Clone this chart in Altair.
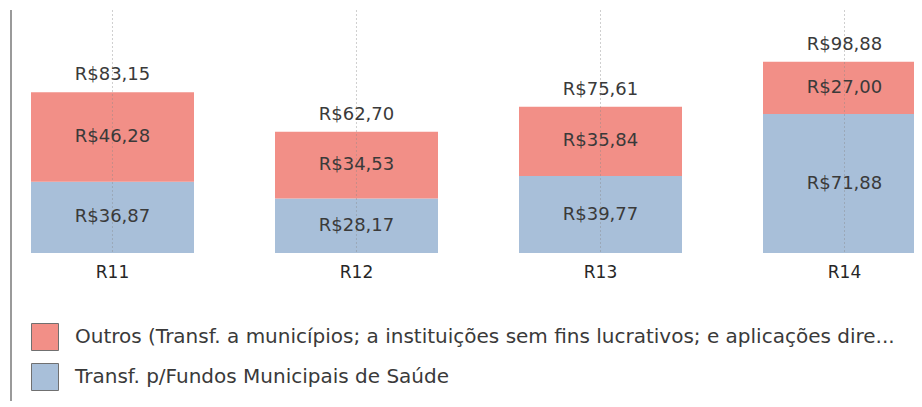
import altair as alt
import pandas as pd

categories = ["R11", "R12", "R13", "R14"]
saude = [36.87, 28.17, 39.77, 71.88]
outros = [46.28, 34.53, 35.84, 27.00]
totais = [83.15, 62.70, 75.61, 98.88]

serie_outros = "Outros (Transf. a municípios; a instituições sem fins lucrativos; e aplicações dire..."
serie_saude = "Transf. p/Fundos Municipais de Saúde"


def brl(v):
    return "R$" + f"{v:.2f}".replace(".", ",")


rows = []
for c, s, o in zip(categories, saude, outros):
    rows.append({"cat": c, "serie": serie_saude, "valor": s, "ordem": 0, "rotulo": brl(s)})
    rows.append({"cat": c, "serie": serie_outros, "valor": o, "ordem": 1, "rotulo": brl(o)})
df = pd.DataFrame(rows)
tot = pd.DataFrame({"cat": categories, "total": totais, "rotulo": [brl(t) for t in totais]})

FONT = "DejaVu Sans"
TXT = "#3a3a3a"

xscale = alt.Scale(domain=categories, range=[20, 915], paddingInner=0.332, paddingOuter=0)
yscale = alt.Scale(domain=[0, 125.7], nice=False, zero=True)

xaxis = alt.Axis(title=None, ticks=False, domain=False, labelAngle=0,
                 labelFont=FONT, labelFontSize=17, labelColor="#262626",
                 labelPadding=11, grid=False)
X = alt.X("cat:N", scale=xscale, sort=categories, axis=xaxis)

base = alt.Chart(df).transform_stack(
    stack="valor", groupby=["cat"], sort=[alt.SortField("ordem", order="ascending")],
    as_=["v0", "v1"]
).transform_calculate(mid="(datum.v0 + datum.v1) / 2")

bars = base.mark_bar(clip=True).encode(
    x=X,
    y=alt.Y("v0:Q", scale=yscale, axis=None),
    y2="v1:Q",
    color=alt.Color(
        "serie:N",
        scale=alt.Scale(domain=[serie_outros, serie_saude], range=["#f28f87", "#a8bfd9"]),
        legend=alt.Legend(
            title=None, orient="none", legendX=20, legendY=313, direction="vertical",
            symbolType="square", symbolSize=729, symbolStrokeColor="#707070",
            symbolStrokeWidth=1, symbolOpacity=1, labelFont=FONT, labelFontSize=20,
            labelColor=TXT, labelLimit=900, labelOffset=16, rowPadding=8,
        ),
    ),
)

seg_text = base.mark_text(font=FONT, fontSize=18, color=TXT, baseline="middle").encode(
    x=X,
    y=alt.Y("mid:Q", scale=yscale, axis=None),
    text="rotulo:N",
)

grid = alt.Chart(tot).mark_rule(color="#888888", strokeDash=[2, 2], strokeWidth=1, opacity=0.4).encode(
    x=X,
    y=alt.value(0),
    y2=alt.value(243),
)

tot_text = alt.Chart(tot).mark_text(font=FONT, fontSize=18, color=TXT, baseline="bottom", dy=-8).encode(
    x=X,
    y=alt.Y("total:Q", scale=yscale, axis=None),
    text="rotulo:N",
)

left_line = alt.Chart(tot).mark_rule(color="#9a9a9a", strokeWidth=2).encode(
    x=alt.value(0), y=alt.value(0), y2=alt.value(400)
)

chart = alt.layer(bars, grid, seg_text, tot_text, left_line).properties(
    width=903, height=243,
    autosize=alt.AutoSizeParams(type="none"),
    padding={"left": 3, "top": 2, "right": 0, "bottom": 148},
).configure(font=FONT).configure_view(stroke=None)

chart.save("out.html", embed_options={"renderer": "svg", "actions": False})
